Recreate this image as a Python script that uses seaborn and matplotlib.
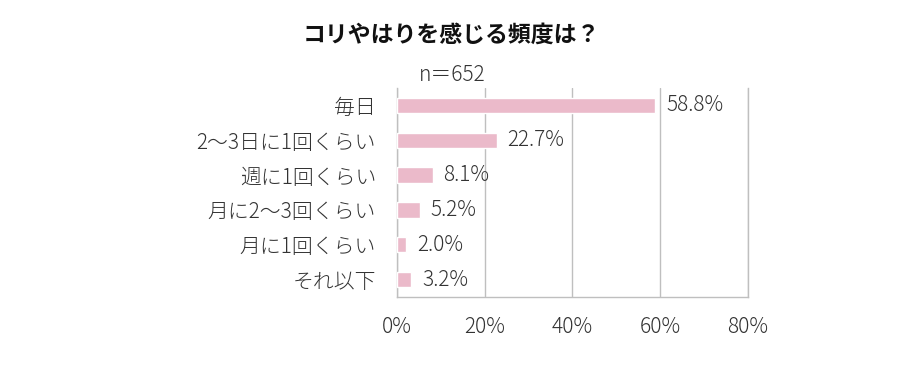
import matplotlib
matplotlib.use('Agg')
import matplotlib.pyplot as plt
import seaborn as sns
import pandas as pd

categories = ['毎日', '2～3日に1回くらい', '週に1回くらい', '月に2～3回くらい', '月に1回くらい', 'それ以下']
values = [58.8, 22.7, 8.1, 5.2, 2.0, 3.2]
xticks = [0, 20, 40, 60, 80]

df = pd.DataFrame({'category': categories, 'value': values})

sns.set_style('white')
plt.rcParams['font.family'] = ['Noto Sans CJK JP', 'DejaVu Sans']

fig = plt.figure(figsize=(9.09, 3.84), dpi=100)
ax = fig.add_axes([0.4367, 0.2266, 0.3862, 0.5443])

sns.barplot(data=df, x='value', y='category', color='#ebbaca', saturation=1,
            width=0.44, ax=ax, zorder=3)

ax.set_xlim(0, 80)
ax.set_xticks(xticks)
ax.set_xticklabels([f'{t}%' for t in xticks], fontsize=15, color='#333333', fontweight='light')
ax.tick_params(axis='x', length=0, pad=14)
ax.tick_params(axis='y', length=0, pad=15, labelsize=15, labelcolor='#333333')
for lab in ax.get_yticklabels():
    lab.set_fontweight('light')
ax.set_xlabel('')
ax.set_ylabel('')
ax.grid(axis='x', color='#bfbfbf', linewidth=1, zorder=0)
ax.spines['top'].set_visible(False)
for s in ['left', 'bottom', 'right']:
    ax.spines[s].set_color('#bfbfbf')
    ax.spines[s].set_linewidth(1)

for i, v in enumerate(values):
    ax.text(v + 2.5, i, f'{v:.1f}%', va='center', ha='left', fontsize=15,
            color='#333333', fontweight='light')

fig.text(0.497, 0.908, 'コリやはりを感じる頻度は？', ha='center', va='center',
         fontsize=16.5, fontweight='bold', color='#111111')
fig.text(0.497, 0.805, 'n＝652', ha='center', va='center', fontsize=15,
         color='#333333', fontweight='light')

fig.savefig('out.png', dpi=100)
